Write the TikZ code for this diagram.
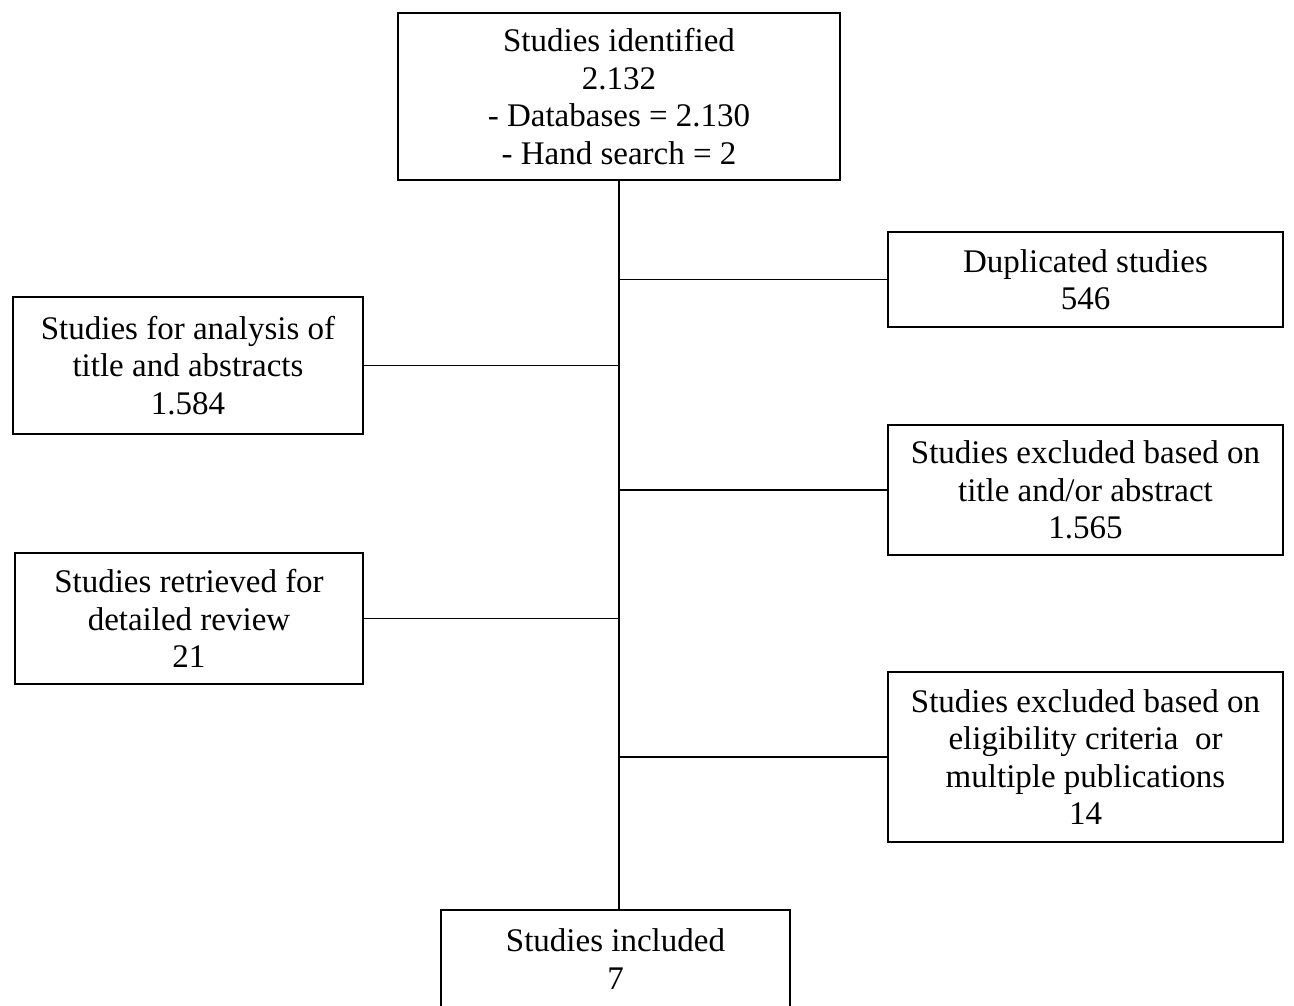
\documentclass[tikz,border=0pt]{standalone}
\usepackage{fontspec}
\setmainfont{Liberation Serif}
\begin{document}
\begin{tikzpicture}[x=1pt,y=-1pt,
  box/.style={draw, line width=1.6pt, align=center, inner sep=0pt,
    font=\fontsize{33}{37.5}\selectfont},
  conn/.style={line width=1.6pt}]
\useasboundingbox (0,0) rectangle (1294,1006);
\clip (0,0) rectangle (1294,1006);
\node[box, minimum width=442pt, minimum height=167pt] (top) at (619,96.5)
  {Studies identified\\2.132\\- Databases = 2.130\\- Hand search = 2};
\node[box, minimum width=395pt, minimum height=95pt] (dup) at (1085.5,279.5)
  {Duplicated studies\\546};
\node[box, minimum width=350pt, minimum height=137pt] (ana) at (188,365.5)
  {Studies for analysis of\\title and abstracts\\1.584};
\node[box, minimum width=395pt, minimum height=130pt] (exa) at (1085.5,490)
  {Studies excluded based on\\title and/or abstract\\1.565};
\node[box, minimum width=348pt, minimum height=131pt] (ret) at (189,618.5)
  {Studies retrieved for\\detailed review\\21};
\node[box, minimum width=395pt, minimum height=170pt] (exb) at (1085.5,757)
  {Studies excluded based on\\eligibility criteria\ \ or\\multiple publications\\14};
\node[box, minimum width=349pt, minimum height=98pt] (inc) at (615.5,959)
  {Studies included\\7};
\draw[conn] (top.south) -- (top.south |- inc.north);
\draw[conn] (top.south |- dup.west) -- (dup.west);
\draw[conn] (top.south |- ana.east) -- (ana.east);
\draw[conn] (top.south |- exa.west) -- (exa.west);
\draw[conn] (top.south |- ret.east) -- (ret.east);
\draw[conn] (top.south |- exb.west) -- (exb.west);
\end{tikzpicture}
\end{document}
